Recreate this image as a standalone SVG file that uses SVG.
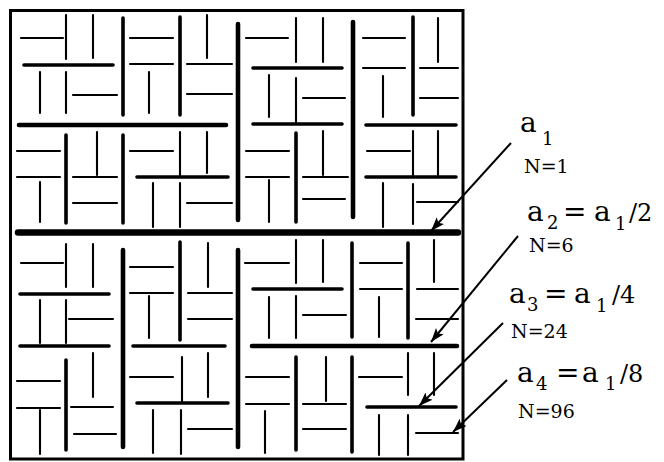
<svg xmlns="http://www.w3.org/2000/svg" width="664" height="462" viewBox="0 0 664 462">
<style>
.frame{fill:none;stroke:#000;stroke-width:3}
.ln{fill:none;stroke:#000;stroke-linecap:round}
.l1{stroke-width:6.5}
.l2{stroke-width:4.6}
.l3{stroke-width:3.6}
.l4{stroke-width:2.1}
.arr{fill:none;stroke:#000;stroke-width:2;marker-end:url(#ah)}
.lab{font-family:"DejaVu Serif","Liberation Serif",serif;fill:#000}
.big{font-size:28px}
.mid{font-size:24px}
.sub{font-size:18px}
.n{font-size:19px}
</style>
<defs>
<marker id="ah" markerUnits="userSpaceOnUse" markerWidth="16" markerHeight="12" refX="14" refY="5" orient="auto">
<path d="M0 0 L14 5 L0 10 L3 5 Z" fill="#000"/>
</marker>
</defs>
<rect id="frame" class="frame" x="10.5" y="10.5" width="452.5" height="448.5"/>
<g id="fracture-level1">
<path class="ln l1" d="M18 232.5H458"/>
</g>
<g id="fracture-level2">
<path class="ln l2" d="M238 24V220 M19 125H226 M353 22V217 M123 250V447 M238 250V447 M252 346H457"/>
</g>
<g id="fracture-level3">
<path class="ln l3" d="M24 65H113 M123 18V115 M180 17V115 M123 135V223 M66 135V223 M137 177H228 M253 124H342 M253 68H342 M296 133V222 M366 125H456 M413 17V115 M366 177H456 M20 346H109 M20 294H109 M66 360V450 M133 346H225 M180 242V340 M137 403H228 M352 243V337 M253 289H342 M408 243V338 M352 357V452 M296 357V450 M367 407H456"/>
</g>
<g id="fracture-level4">
<path class="ln l4" d="M66 15V59 M21 38H63 M93 15V58 M66 72V113 M40 72V113 M73 95H117 M130 64H173 M130 38H173 M149 72V113 M187 64H232 M207 15V58 M187 94H232 M17 177H60 M17 151H60 M40 182V222 M73 177H117 M97 132V175 M73 203H117 M180 132V175 M130 151H173 M207 132V173 M180 183V227 M153 183V227 M187 203H232"/>
<path class="ln l4" d="M296 18V62 M246 38H288 M323 18V62 M296 78V122 M269 75V117 M303 98H345 M246 177H289 M246 151H289 M269 180V222 M303 177H348 M323 131V175 M303 199H345 M363 68H405 M363 38H405 M383 76V117 M420 68H458 M438 18V62 M420 98H458 M413 131V175 M367 151H410 M438 131V175 M413 184V224 M383 183V227 M417 202H458"/>
<path class="ln l4" d="M66 244V287 M21 263H63 M93 244V287 M66 300V343 M40 300V343 M69 319H113 M17 408H60 M17 381H60 M40 410V454 M71 407H113 M93 353V397 M74 434H116 M130 293H173 M130 267H173 M149 296V338 M188 293H232 M208 243V287 M188 319H232 M182 357V402 M130 377H173 M208 353V397 M181 410V454 M153 410V453 M188 429H232"/>
<path class="ln l4" d="M296 240V283 M245 263H289 M323 240V282 M296 296V338 M269 297V338 M303 315H346 M360 289H402 M360 263H402 M379 297V337 M417 289H458 M434 240V282 M416 319H458 M246 404H289 M246 377H289 M265 411V453 M303 404H346 M326 357V401 M303 429H346 M408 353V395 M359 377H402 M434 353V395 M408 415V455 M379 415V455 M416 433H458"/>
</g>
<g id="connectors">
<line class="arr" x1="511" y1="143" x2="431" y2="231"/>
<line class="arr" x1="518" y1="236" x2="431" y2="342"/>
<line class="arr" x1="503" y1="323" x2="419" y2="406"/>
<line class="arr" x1="507" y1="380" x2="453" y2="432"/>
</g>
<g id="label-a1">
<text class="lab"><tspan class="big" x="520" y="132">a</tspan><tspan class="sub" x="542" y="145">1</tspan></text>
<text class="lab n" x="524" y="173">N=1</text>
</g>
<g id="label-a2">
<text class="lab"><tspan class="big" x="527" y="221">a</tspan><tspan class="sub" x="547" y="229">2</tspan><tspan class="big" x="563" y="221">=</tspan><tspan class="big" x="594" y="221">a</tspan><tspan class="sub" x="615" y="230">1</tspan><tspan class="mid" x="629" y="221">/2</tspan></text>
<text class="lab n" x="529" y="252">N=6</text>
</g>
<g id="label-a3">
<text class="lab"><tspan class="big" x="509" y="303">a</tspan><tspan class="sub" x="527" y="311">3</tspan><tspan class="big" x="544" y="303">=</tspan><tspan class="big" x="574" y="303">a</tspan><tspan class="sub" x="596" y="312">1</tspan><tspan class="mid" x="612" y="303">/4</tspan></text>
<text class="lab n" x="511" y="338">N=24</text>
</g>
<g id="label-a4">
<text class="lab"><tspan class="big" x="517" y="382">a</tspan><tspan class="sub" x="536" y="390">4</tspan><tspan class="big" x="556" y="382">=</tspan><tspan class="big" x="582" y="382">a</tspan><tspan class="sub" x="605" y="390">1</tspan><tspan class="mid" x="620" y="382">/8</tspan></text>
<text class="lab n" x="518" y="418">N=96</text>
</g>
</svg>
